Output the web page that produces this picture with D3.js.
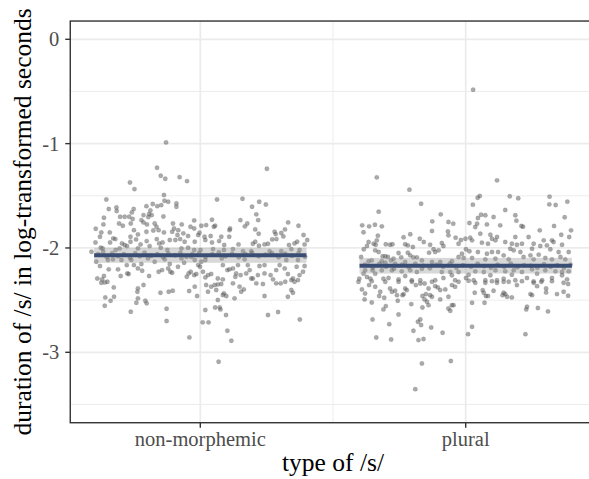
<!DOCTYPE html>
<html>
<head>
<meta charset="utf-8">
<script src="https://cdn.jsdelivr.net/npm/d3@7"></script>
<style>
  body { margin: 0; background: #fff; }
  text { font-family: "Liberation Serif", "DejaVu Serif", serif; }
</style>
</head>
<body>
<div id="chart"></div>
<script>
// categories on the x axis (positions 1 and 2)
const categories = ["non-morphemic", "plural"];

// jittered points: [position incl. jitter, log duration]
const nonMorphemic = [
  [0.871,-0.988],[0.837,-1.231],[0.851,-1.308],[0.868,-1.337],[0.922,-1.321],[0.950,-1.359],[0.735,-1.372],[0.752,-1.436],
  [0.646,-1.535],[0.863,-1.493],[0.865,-1.547],[0.879,-1.557],[0.910,-1.573],[0.910,-1.605],[0.853,-1.589],[0.838,-1.599],
  [0.821,-1.579],[0.797,-1.599],[0.655,-1.627],[0.684,-1.611],[0.685,-1.646],[0.749,-1.627],[0.742,-1.659],[0.812,-1.640],
  [0.807,-1.675],[0.637,-1.710],[0.698,-1.701],[0.715,-1.701],[0.732,-1.701],[0.786,-1.685],[0.778,-1.733],[0.804,-1.704],
  [0.817,-1.685],[0.861,-1.698],[0.606,-1.816],[0.635,-1.774],[0.694,-1.765],[0.708,-1.787],[0.738,-1.765],[0.745,-1.723],
  [0.750,-1.829],[0.786,-1.755],[0.799,-1.774],[0.828,-1.765],[0.835,-1.797],[0.897,-1.765],[0.901,-1.813],[0.930,-1.774],
  [0.963,-1.797],[0.977,-1.736],[0.622,-1.892],[0.627,-1.851],[0.659,-1.851],[0.672,-1.908],[0.680,-1.915],[0.737,-1.892],
  [0.765,-1.870],[0.797,-1.845],[0.823,-1.832],[0.843,-1.829],[0.863,-1.851],[0.894,-1.845],[0.914,-1.876],[0.917,-1.829],
  [0.936,-1.860],[0.954,-1.886],[0.977,-1.813],[0.605,-1.947],[0.625,-1.998],[0.660,-1.947],[0.705,-1.956],[0.715,-1.972],
  [0.737,-1.940],[0.758,-1.918],[0.775,-1.966],[0.798,-1.934],[0.836,-1.915],[0.845,-1.956],[0.858,-1.947],[0.885,-1.924],
  [0.906,-1.924],[0.924,-1.915],[0.941,-1.940],[0.979,-1.940],[0.992,-1.876],[0.632,-2.004],[0.681,-2.020],[0.696,-2.004],
  [0.724,-1.982],[0.765,-2.004],[0.809,-1.982],[0.851,-1.998],[0.876,-2.020],[0.929,-2.004],[0.954,-1.998],[0.977,-2.020],
  [1.251,-1.241],[1.063,-1.535],[1.159,-1.528],[1.222,-1.557],[1.195,-1.605],[1.247,-1.583],[1.211,-1.678],[1.218,-1.733],
  [1.151,-1.733],[1.177,-1.765],[1.168,-1.793],[1.044,-1.729],[1.022,-1.781],[1.004,-1.787],[1.056,-1.787],[1.051,-1.797],
  [1.112,-1.813],[1.110,-1.829],[1.207,-1.822],[1.220,-1.864],[1.280,-1.845],[1.284,-1.867],[1.305,-1.857],[1.319,-1.822],
  [1.313,-1.889],[1.287,-1.915],[1.271,-1.918],[1.331,-1.755],[1.370,-1.787],[1.389,-1.876],[0.997,-1.854],[1.016,-1.892],
  [1.039,-1.886],[1.019,-1.924],[1.044,-1.947],[1.079,-1.892],[1.109,-1.892],[1.071,-1.934],[1.090,-1.972],[1.144,-1.966],
  [1.198,-1.960],[1.207,-1.940],[1.221,-1.979],[1.242,-1.966],[1.255,-1.960],[1.334,-1.972],[1.355,-1.956],[1.365,-1.940],
  [1.393,-1.966],[1.403,-1.924],[1.001,-2.020],[1.048,-2.011],[1.089,-2.020],[1.123,-2.011],[1.161,-2.030],[1.192,-2.030],
  [1.261,-2.030],[1.305,-2.030],[1.343,-2.011],[1.374,-2.020],
  [0.608,-2.132],[0.622,-2.173],[0.655,-2.205],[0.637,-2.269],[0.612,-2.292],[0.630,-2.301],[0.640,-2.330],[0.650,-2.324],
  [0.627,-2.333],[0.674,-2.378],[0.690,-2.205],[0.700,-2.269],[0.725,-2.244],[0.730,-2.250],[0.723,-2.164],[0.740,-2.116],
  [0.750,-2.164],[0.765,-2.196],[0.778,-2.154],[0.781,-2.218],[0.807,-2.269],[0.828,-2.132],[0.843,-2.228],[0.856,-2.212],
  [0.879,-2.196],[0.887,-2.228],[0.894,-2.237],[0.885,-2.154],[0.916,-2.180],[0.939,-2.141],[0.949,-2.276],[0.956,-2.244],
  [0.964,-2.228],[0.977,-2.260],[0.985,-2.250],[0.979,-2.116],[0.992,-2.164],[0.786,-2.355],[0.765,-2.387],[0.763,-2.419],
  [0.765,-2.483],[0.759,-2.525],[0.793,-2.506],[0.798,-2.531],[0.738,-2.611],[0.675,-2.467],[0.662,-2.506],[0.642,-2.474],
  [0.640,-2.554],[0.850,-2.429],[0.881,-2.419],[0.896,-2.410],[0.873,-2.582],[0.873,-2.700],[0.959,-2.857],[0.958,-2.413],
  [0.979,-2.371],[0.988,-2.461],[0.590,-2.036],[0.634,-2.036],[0.671,-2.109],[0.703,-2.116],[0.652,-2.116],[0.803,-2.100],
  [0.866,-2.109],[0.929,-2.100],[0.966,-2.084],
  [1.004,-2.132],[1.019,-2.116],[0.999,-2.180],[1.010,-2.228],[1.029,-2.260],[1.041,-2.250],[1.019,-2.282],[1.022,-2.355],
  [1.041,-2.371],[1.054,-2.355],[1.066,-2.349],[1.079,-2.346],[1.085,-2.301],[1.066,-2.292],[1.085,-2.164],[1.102,-2.212],
  [1.110,-2.205],[1.123,-2.196],[1.135,-2.244],[1.152,-2.260],[1.132,-2.276],[1.123,-2.339],[1.148,-2.371],[1.164,-2.397],
  [1.154,-2.419],[1.029,-2.419],[1.060,-2.403],[1.089,-2.435],[1.098,-2.461],[1.066,-2.499],[1.085,-2.451],[1.056,-2.570],
  [1.073,-2.570],[1.076,-2.589],[1.097,-2.643],[1.019,-2.595],[1.009,-2.713],[1.031,-2.713],[1.102,-2.793],[1.117,-2.889],
  [1.069,-3.090],[1.129,-2.483],[1.173,-2.244],[1.192,-2.292],[1.186,-2.212],[1.198,-2.292],[1.217,-2.260],[1.223,-2.173],
  [1.242,-2.244],[1.236,-2.346],[1.242,-2.461],[1.255,-2.643],[1.293,-2.614],[1.274,-2.301],[1.265,-2.260],[1.286,-2.212],
  [1.299,-2.164],[1.318,-2.196],[1.330,-2.250],[1.303,-2.339],[1.320,-2.324],[1.343,-2.308],[1.349,-2.292],[1.355,-2.324],
  [1.368,-2.308],[1.374,-2.260],[1.387,-2.228],[1.393,-2.173],[1.363,-2.180],[1.343,-2.403],[1.349,-2.429],[1.330,-2.467],
  [1.375,-2.685],[1.286,-2.339],[1.211,-2.339],[1.242,-2.164],[1.179,-2.164],[1.142,-2.164],[1.081,-2.100],[1.167,-2.109],
  [1.324,-2.116],[1.368,-2.116],
  [0.615,-2.060],[0.648,-2.090],[0.668,-2.050],[0.690,-2.080],[0.712,-2.060],[0.735,-2.095],[0.755,-2.050],[0.772,-2.080],
  [0.790,-2.045],[0.815,-2.075],[0.838,-2.060],[0.860,-2.090],[0.880,-2.055],[0.905,-2.070],[0.925,-2.045],[0.948,-2.085],
  [0.970,-2.060],[0.995,-2.050],[1.020,-2.085],[1.045,-2.060],[1.070,-2.040],[1.095,-2.080],[1.120,-2.055],[1.145,-2.090],
  [1.170,-2.060],[1.195,-2.045],[1.220,-2.080],[1.245,-2.065],[1.270,-2.050],[1.295,-2.090],[1.320,-2.055],[1.345,-2.075],
  [1.370,-2.050],[1.395,-2.085]
];

const plural = [
  [2.028,-0.483],
  [1.665,-1.323],[1.788,-1.441],[1.832,-1.576],[1.672,-1.652],[1.906,-1.678],[1.874,-1.745],[1.935,-1.751],[1.953,-1.767],
  [1.610,-1.783],[1.636,-1.793],[1.658,-1.777],[1.684,-1.793],[1.615,-1.850],[1.669,-1.882],[1.873,-1.837],[1.933,-1.841],
  [1.935,-1.879],[1.791,-1.869],[1.766,-1.898],[1.827,-1.911],[1.842,-1.943],[1.962,-1.901],[1.982,-1.924],[1.634,-1.943],
  [1.628,-1.981],[1.653,-1.959],[1.661,-1.969],[1.665,-1.927],[1.616,-2.013],[1.659,-2.023],[1.672,-2.039],[1.699,-1.965],
  [1.715,-1.969],[1.724,-1.965],[1.772,-1.965],[1.782,-1.975],[1.801,-1.991],[1.866,-1.969],[1.910,-1.953],[1.916,-1.981],
  [1.973,-1.959],[1.898,-2.023],[1.879,-2.013],[1.885,-2.039],[1.862,-2.045],[1.747,-2.048],[1.757,-2.090],[1.782,-2.045],
  [1.791,-2.071],[1.803,-2.090],[1.816,-2.090],[1.728,-2.103],[1.719,-2.119],[1.697,-2.080],[1.687,-2.080],[1.707,-2.087],
  [1.606,-2.087],[1.684,-2.128],[1.634,-2.128],[1.646,-2.119],[1.697,-2.141],[1.734,-2.151],[1.772,-2.135],[1.835,-2.119],
  [1.873,-2.135],[1.904,-2.135],[1.948,-2.128],[1.973,-2.087],[1.986,-2.055],[1.621,-2.214],[1.649,-2.214],[1.684,-2.214],
  [1.722,-2.214],[1.759,-2.224],[1.791,-2.214],[1.816,-2.230],[1.835,-2.199],[1.910,-2.230],[1.942,-2.230],[1.973,-2.230],
  [1.599,-2.294],[1.628,-2.278],[1.641,-2.294],[1.690,-2.294],[1.709,-2.288],[1.747,-2.301],[1.797,-2.310],[1.829,-2.310],
  [1.885,-2.310],[1.916,-2.288],[1.960,-2.310],[1.615,-2.246],[1.659,-2.246],[1.772,-2.269],[1.948,-2.262],
  [2.118,-1.352],[2.166,-1.505],[2.198,-1.524],[2.045,-1.518],[2.053,-1.502],[2.027,-1.585],[2.316,-1.508],[2.315,-1.582],
  [2.339,-1.588],[2.383,-1.556],[2.149,-1.636],[2.058,-1.681],[2.074,-1.687],[2.046,-1.713],[2.105,-1.703],[2.187,-1.687],
  [2.191,-1.738],[2.014,-1.761],[2.043,-1.767],[2.036,-1.799],[2.080,-1.774],[2.130,-1.783],[2.210,-1.790],[2.216,-1.796],
  [2.279,-1.831],[2.333,-1.790],[2.373,-1.706],[2.397,-1.831],[2.360,-1.873],[2.390,-1.895],[2.055,-1.863],[2.093,-1.873],
  [2.099,-1.911],[2.112,-1.927],[2.118,-1.895],[2.024,-1.927],[1.999,-1.911],[2.017,-1.901],[2.061,-1.949],[2.084,-1.959],
  [2.187,-1.895],[2.237,-1.895],[2.149,-1.943],[2.174,-1.959],[2.193,-1.969],[2.212,-1.959],[2.168,-2.007],[2.181,-2.023],
  [2.256,-1.959],[2.294,-1.927],[2.325,-1.927],[2.331,-1.943],[2.306,-1.975],[2.281,-1.981],[2.250,-2.007],[2.319,-2.013],
  [2.350,-2.039],[2.363,-1.969],[2.388,-2.039],[2.001,-2.013],[2.014,-2.032],[2.046,-2.039],[2.080,-2.055],[2.099,-2.039],
  [2.122,-2.039],[2.143,-2.071],[2.206,-2.039],[2.218,-2.087],[2.244,-2.071],[2.275,-2.064],[2.300,-2.096],[2.357,-2.087],
  [2.375,-2.109],[1.992,-2.096],[2.024,-2.096],[2.074,-2.109],[2.112,-2.103],[2.162,-2.109],[2.256,-2.109],[2.325,-2.109],
  [2.036,-2.224],[2.068,-2.230],[2.112,-2.214],[2.149,-2.224],[2.181,-2.214],[2.212,-2.230],[2.250,-2.205],[2.300,-2.214],
  [2.338,-2.224],[2.363,-2.230],[2.388,-2.224],[2.001,-2.288],[2.030,-2.310],[2.074,-2.310],[2.118,-2.310],[2.143,-2.294],
  [2.187,-2.310],[2.231,-2.288],[2.256,-2.320],[2.288,-2.310],[2.325,-2.288],[2.363,-2.262],[2.382,-2.301],[2.011,-2.256],
  [2.093,-2.262],[2.174,-2.256],[2.269,-2.246],
  [1.636,-2.356],[1.621,-2.436],[1.619,-2.493],[1.646,-2.522],[1.674,-2.461],[1.693,-2.477],[1.678,-2.420],[1.715,-2.388],
  [1.722,-2.420],[1.734,-2.410],[1.741,-2.452],[1.744,-2.506],[1.766,-2.442],[1.772,-2.388],[1.778,-2.404],[1.762,-2.452],
  [1.795,-2.538],[1.812,-2.356],[1.829,-2.340],[1.845,-2.340],[1.837,-2.461],[1.845,-2.493],[1.850,-2.442],[1.860,-2.388],
  [1.866,-2.452],[1.873,-2.468],[1.885,-2.366],[1.895,-2.378],[1.904,-2.404],[1.923,-2.397],[1.948,-2.356],[1.960,-2.372],
  [1.935,-2.468],[1.948,-2.548],[1.954,-2.548],[1.935,-2.580],[1.942,-2.602],[1.904,-2.493],[1.854,-2.516],[1.860,-2.548],
  [1.837,-2.570],[1.690,-2.589],[1.699,-2.557],[1.747,-2.637],[1.649,-2.685],[1.712,-2.730],[1.820,-2.707],[1.829,-2.685],
  [1.832,-2.739],[1.803,-2.794],[1.870,-2.762],[1.913,-2.813],[1.663,-2.858],[1.719,-2.877],[1.822,-2.883],[1.841,-2.873],
  [1.835,-3.107],[1.944,-3.084],[1.810,-3.353],[1.596,-2.324],[1.646,-2.318],[1.697,-2.324],[1.747,-2.324],[1.797,-2.324],
  [1.873,-2.324],[1.973,-2.324],[1.609,-2.397],[1.659,-2.372],
  [2.036,-2.334],[2.074,-2.334],[2.118,-2.334],[2.143,-2.324],[2.162,-2.324],[2.193,-2.356],[2.256,-2.334],[2.269,-2.366],
  [2.285,-2.324],[2.303,-2.388],[2.303,-2.426],[2.369,-2.334],[2.386,-2.346],[2.034,-2.429],[2.064,-2.404],[2.068,-2.429],
  [2.076,-2.461],[2.084,-2.461],[2.105,-2.410],[2.143,-2.429],[2.139,-2.452],[2.156,-2.468],[2.174,-2.474],[2.149,-2.442],
  [2.244,-2.442],[2.250,-2.452],[2.344,-2.442],[2.369,-2.420],[2.386,-2.458],[2.024,-2.525],[2.071,-2.525],[2.231,-2.564],
  [2.228,-2.589],[2.272,-2.576],[2.310,-2.608],[2.024,-2.755],[2.009,-2.826],[2.225,-2.826],[2.011,-2.314],[2.099,-2.318],
  [2.212,-2.318],[2.325,-2.318],
  [1.620,-2.160],[1.650,-2.190],[1.675,-2.150],[1.700,-2.180],[1.730,-2.200],[1.760,-2.160],[1.785,-2.185],[1.810,-2.150],
  [1.840,-2.170],[1.865,-2.195],[1.890,-2.160],[1.915,-2.180],[1.940,-2.150],[1.965,-2.190],[1.990,-2.165],[2.020,-2.180],
  [2.045,-2.150],[2.070,-2.175],[2.095,-2.190],[2.120,-2.160],[2.145,-2.180],[2.170,-2.150],[2.195,-2.185],[2.220,-2.165],
  [2.245,-2.170],[2.270,-2.190],[2.295,-2.155],[2.320,-2.180],[2.345,-2.165],[2.370,-2.190],[2.395,-2.160]
];

// fitted means per category and their confidence band
const fitMean = [-2.07, -2.17];
const fitLower = [-2.142, -2.245];
const fitUpper = [-1.998, -2.095];
const fitHalfWidth = 0.4;

const yTicks = [0, -1, -2, -3];
const yMinor = [-0.5, -1.5, -2.5, -3.5];
const xMinor = [1.5];

const width = 589, height = 479;

const svg = d3.select("#chart").append("svg")
  .attr("width", width)
  .attr("height", height);

// scales: category index (with jitter) and log duration
const x = d3.scaleLinear().domain([1, 2]).range([200.3, 465.7]);
const y = d3.scaleLinear().domain([0, -3]).range([39.3, 352.3]);

const panelLeft = x(0.51), panelRight = x(2.49);
const panelTop = y(0.175), panelBottom = y(-3.675);

// grid
const grid = svg.append("g");
grid.selectAll(".ymin").data(yMinor).enter().append("line")
  .attr("x1", panelLeft).attr("x2", panelRight)
  .attr("y1", d => y(d)).attr("y2", d => y(d))
  .attr("stroke", "#ebebeb").attr("stroke-width", 0.9);
grid.selectAll(".xmin").data(xMinor).enter().append("line")
  .attr("y1", panelTop).attr("y2", panelBottom)
  .attr("x1", d => x(d)).attr("x2", d => x(d))
  .attr("stroke", "#ebebeb").attr("stroke-width", 0.9);
grid.selectAll(".ymaj").data(yTicks).enter().append("line")
  .attr("x1", panelLeft).attr("x2", panelRight)
  .attr("y1", d => y(d)).attr("y2", d => y(d))
  .attr("stroke", "#ebebeb").attr("stroke-width", 1.7);
grid.selectAll(".xmaj").data([1, 2]).enter().append("line")
  .attr("y1", panelTop).attr("y2", panelBottom)
  .attr("x1", d => x(d)).attr("x2", d => x(d))
  .attr("stroke", "#ebebeb").attr("stroke-width", 1.7);

// points
const pts = svg.append("g");
[nonMorphemic, plural].forEach(series => {
  pts.selectAll(null).data(series).enter().append("circle")
    .attr("cx", d => x(d[0]))
    .attr("cy", d => y(d[1]))
    .attr("r", 2.2)
    .attr("fill", "#555")
    .attr("fill-opacity", 0.5)
    .attr("stroke", "#555")
    .attr("stroke-opacity", 0.25)
    .attr("stroke-width", 0.6);
});

// confidence ribbons and fitted lines
categories.forEach((c, i) => {
  const cx = i + 1;
  svg.append("rect")
    .attr("x", x(cx - fitHalfWidth))
    .attr("width", x(cx + fitHalfWidth) - x(cx - fitHalfWidth))
    .attr("y", y(fitUpper[i]))
    .attr("height", y(fitLower[i]) - y(fitUpper[i]))
    .attr("fill", "#999").attr("fill-opacity", 0.38);
  svg.append("line")
    .attr("x1", x(cx - fitHalfWidth)).attr("x2", x(cx + fitHalfWidth))
    .attr("y1", y(fitMean[i])).attr("y2", y(fitMean[i]))
    .attr("stroke", "#3a4e74").attr("stroke-width", 4);
});

// panel border
svg.append("rect")
  .attr("x", panelLeft).attr("y", panelTop)
  .attr("width", panelRight - panelLeft).attr("height", panelBottom - panelTop)
  .attr("fill", "none").attr("stroke", "#333").attr("stroke-width", 1.4);

// y axis ticks and labels
const yAxis = svg.append("g");
yAxis.selectAll("line").data(yTicks).enter().append("line")
  .attr("x1", panelLeft - 5).attr("x2", panelLeft)
  .attr("y1", d => y(d)).attr("y2", d => y(d))
  .attr("stroke", "#333").attr("stroke-width", 1.4);
yAxis.selectAll("text").data(yTicks).enter().append("text")
  .attr("x", panelLeft - 11)
  .attr("y", d => y(d))
  .attr("dy", "0.34em")
  .attr("text-anchor", "end")
  .attr("font-size", 20.5)
  .attr("fill", "#4d4d4d")
  .text(d => d);

// x axis ticks and labels
const xAxis = svg.append("g");
xAxis.selectAll("line").data(categories).enter().append("line")
  .attr("x1", (d, i) => x(i + 1)).attr("x2", (d, i) => x(i + 1))
  .attr("y1", panelBottom).attr("y2", panelBottom + 5)
  .attr("stroke", "#333").attr("stroke-width", 1.4);
xAxis.selectAll("text").data(categories).enter().append("text")
  .attr("x", (d, i) => x(i + 1))
  .attr("y", 445.5)
  .attr("text-anchor", "middle")
  .attr("font-size", 20.5)
  .attr("fill", "#4d4d4d")
  .text(d => d);

// axis titles
svg.append("text")
  .attr("x", (x(1) + x(2)) / 2)
  .attr("y", 471)
  .attr("text-anchor", "middle")
  .attr("font-size", 25.5)
  .attr("fill", "#000")
  .text("type of /s/");

svg.append("text")
  .attr("transform", `translate(31, ${(panelTop + panelBottom) / 2}) rotate(-90)`)
  .attr("text-anchor", "middle")
  .attr("font-size", 25.5)
  .attr("fill", "#000")
  .text("duration of /s/ in log-transformed seconds");
</script>
</body>
</html>
